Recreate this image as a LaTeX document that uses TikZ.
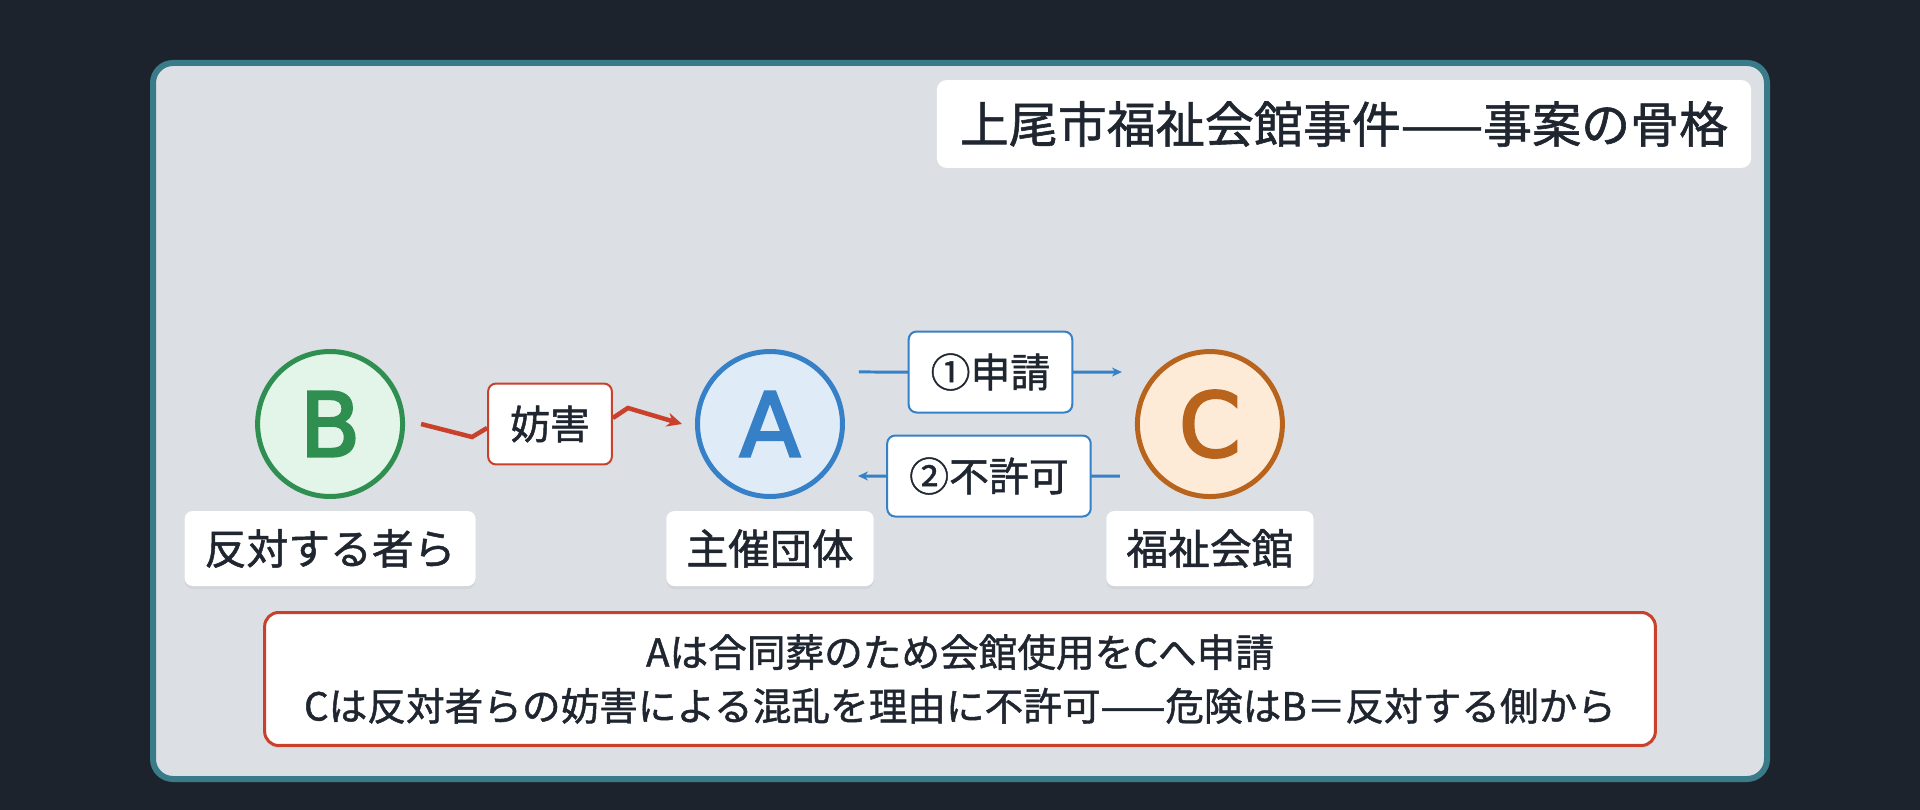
\documentclass[tikz,border=0pt]{standalone}
\usepackage{fontspec}
\setmainfont[FakeBold=1.2]{Noto Sans CJK JP}
\newfontfamily\letterfont[FakeBold=3]{DejaVu Sans}
\usetikzlibrary{matrix}
\usetikzlibrary{calc}
\usetikzlibrary{arrows.meta}
\usetikzlibrary{shadows}
\newcommand{\fsz}[2]{\fontsize{#1}{#2}\selectfont}

\definecolor{night}{HTML}{1D232D}
\definecolor{panel}{HTML}{DCDFE4}
\definecolor{rim}{HTML}{3A7B8A}
\definecolor{ink}{HTML}{1F2630}
\definecolor{oppline}{HTML}{2F8F50}
\definecolor{oppfill}{HTML}{E3F4E8}
\definecolor{hostline}{HTML}{3580C6}
\definecolor{hostfill}{HTML}{E0EBF8}
\definecolor{hallline}{HTML}{B8641C}
\definecolor{hallfill}{HTML}{FDEBD8}
\definecolor{harm}{HTML}{C9402B}

\tikzset{
        party/.style 2 args={circle, draw=#1, fill=#2, text=#1, line width=0.1cm,
                minimum size=2.9cm, inner sep=0pt, font=\letterfont\fsz{50.5}{54}},
        softshadow/.style={drop shadow={opacity=0.1, shadow xshift=0cm, shadow yshift=-0.06cm}},
        namebox/.style={fill=white, rounded corners=0.16cm, text=ink, minimum height=1.5cm,
                inner xsep=0.4cm, font=\fsz{23.8}{28}, softshadow},
        edgetag/.style={fill=white, draw=#1, line width=0.04cm, rounded corners=0.16cm, text=ink,
                minimum height=1.62cm, inner xsep=0.44cm, font=\fsz{22.7}{27}},
        headbox/.style={fill=white, rounded corners=0.2cm, text=ink, minimum height=1.76cm,
                inner xsep=0.46cm, font=\fsz{27.9}{33}},
        notebox/.style={fill=white, draw=harm, line width=0.06cm, rounded corners=0.28cm, text=ink,
                minimum width=27.82cm, minimum height=2.66cm, align=center, font=\fsz{22}{30.6}, softshadow},
        flow/.style={hostline, line width=0.06cm},
        harmline/.style={harm, line width=0.09cm},
}

\begin{document}
\begin{tikzpicture}[x=0.02cm,y=-0.02cm]
        \fill[night] (0,0) rectangle (1920,810);
        \draw[rim, line width=0.12cm, fill=panel, rounded corners=0.4cm] (153,63) rectangle (1767,779);

        \node[headbox] (head) at (1344,124) {上尾市福祉会館事件——事案の骨格};

        \matrix (m) [matrix of nodes, column sep={8.8cm,between origins}, row sep=0.24cm,
                matrix anchor=m-1-2.center] at (770,424)
        {
                |[party={oppline}{oppfill}]| B & |[party={hostline}{hostfill}]| A & |[party={hallline}{hallfill}]| C \\
                |[namebox]| 反対する者ら & |[namebox]| 主催団体 & |[namebox]| 福祉会館 \\
        };

        % B interferes with A
        \node[edgetag=harm] (jam) at (550,424) {妨害};
        \draw[harmline] ($(m-1-1.east)+(16,0)$) -- ++(51,13) -- ($(jam.west)+(0,4)$);
        \draw[harmline,-{Stealth[length=0.3cm,width=0.28cm]}] ($(jam.east)+(0,-6)$) -- ++(15,-10)
                -- ($(m-1-2.west)+(-13,0)$);

        % application and refusal
        \draw[flow,-{Stealth[length=0.2cm,width=0.18cm]}] ($(m-1-2.east)+(14,-52)$) -- ($(m-1-3.west)+(-13,-52)$)
                node[midway, edgetag=hostline] (req) {①申請};
        \draw[flow,-{Stealth[length=0.2cm,width=0.18cm]}] ($(m-1-3.west)+(-15,52)$) -- ($(m-1-2.east)+(13,52)$)
                node[midway, edgetag=hostline] (deny) {②不許可};

        \node[notebox] (note) at (960,679)
                {Aは合同葬のため会館使用をCへ申請\\Cは反対者らの妨害による混乱を理由に不許可——危険はB＝反対する側から};
\end{tikzpicture}
\end{document}
